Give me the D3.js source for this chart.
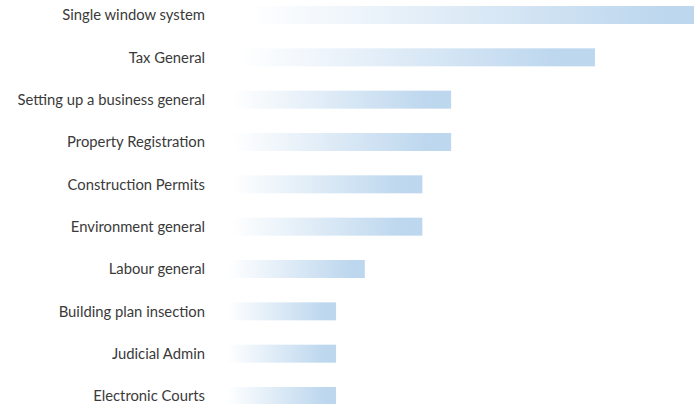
<!DOCTYPE html>
<html><head><meta charset="utf-8">
<script src="https://cdn.jsdelivr.net/npm/d3@7"></script>
<style>body{margin:0;background:#fff;}svg{display:block;}</style>
</head><body>
<svg id="chart" width="694" height="404"></svg>
<script>
const categories = ["Single window system","Tax General","Setting up a business general","Property Registration","Construction Permits","Environment general","Labour general","Building plan insection","Judicial Admin","Electronic Courts"];
const values = [17, 13, 8, 8, 7, 7, 5, 4, 4, 4];

const svg = d3.select("#chart");
const x = d3.scaleLinear().domain([0, 17]).range([221, 710]);
const y = d3.scaleBand().domain(categories).range([6, 405]).paddingInner(0.575).paddingOuter(0);

const defs = svg.append("defs");
const grad = defs.append("linearGradient").attr("id","barGrad").attr("x1","0").attr("x2","1").attr("y1","0").attr("y2","0");
grad.append("stop").attr("offset","0").attr("stop-color","#ffffff");
grad.append("stop").attr("offset","0.05").attr("stop-color","#ffffff");
grad.append("stop").attr("offset","0.9").attr("stop-color","#bdd7ee");
grad.append("stop").attr("offset","1").attr("stop-color","#bdd7ee");

const data = categories.map((c,i)=>({c, v: values[i]}));

svg.append("g").selectAll("rect").data(data).join("rect")
  .attr("x", x(0))
  .attr("y", d=>y(d.c))
  .attr("width", d=>x(d.v)-x(0))
  .attr("height", y.bandwidth())
  .attr("fill","url(#barGrad)");

const axis = d3.axisLeft(y).tickSize(0).tickPadding(0);
const g = svg.append("g").attr("transform","translate(205,0.5)").call(axis);
g.select(".domain").remove();
g.selectAll("text").attr("font-family","Lato, 'Open Sans', sans-serif").attr("font-size","14.8px").attr("fill","#3a3a3a");
</script>
</body></html>
